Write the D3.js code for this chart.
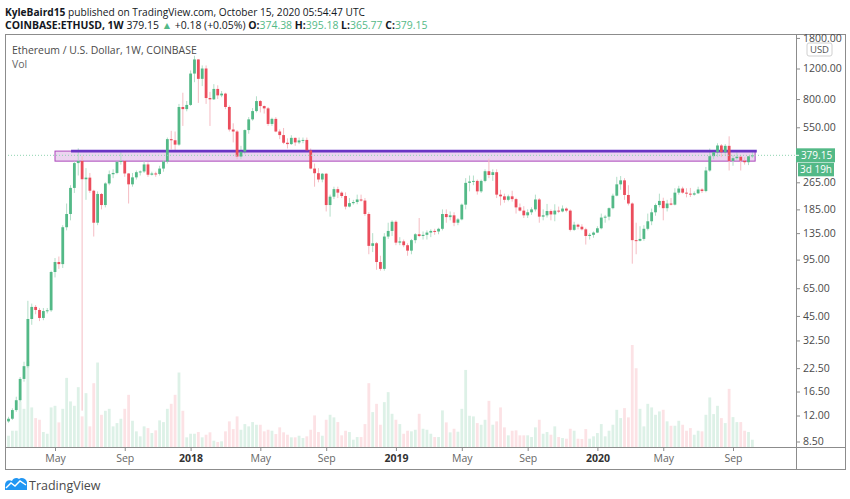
<!DOCTYPE html>
<html><head><meta charset="utf-8">
<script src="https://cdnjs.cloudflare.com/ajax/libs/d3/7.8.5/d3.min.js"></script>
<style>
html,body{margin:0;padding:0;background:#fff;}
svg{display:block;font-family:"Open Sans","Noto Sans",sans-serif;}
</style></head>
<body>
<svg id="chart" width="850" height="499"></svg>
<script>
// ---------- DATA (weekly candles, COINBASE:ETHUSD, first week = 2017-01-30) ----------
const firstWeek = "2017-01-30";
const lastWeek  = "2020-10-12";
const opens = [10.6,11.1,11.5,12.9,14.7,19.5,23.1,43.2,50.7,48.7,43.8,48,48.5,
80.6,92,89.5,146,174,246,342,352,276,282,237,155,227,196,261,295,300,348,352,298,258,283,303,306,336,293,298,296,318,349,470,463,437,720,700,
740,1122,1353,1046,1200,811,797,915,840,860,720,534,520,373,398,530,611,682,779,729,707,575,615,520,496,448,440,478,450,462,465,405,318,299,275,297,196,219,242,231,221,192,201,204,211,208,174,114,118,92,84,129,139,
157,119,121,115,107,123,133,130,132,136,139,138,143,174,167,171,155,162,197,263,268,270,235,270,307,292,303,225,220,210,220,212,190,182,171,178,185,211,168,171,181,173,182,180,187,182,141,151,147,142,130,132,
136,144,166,168,188,222,258,272,224,200,123,122,125,143,158,178,196,207,188,200,197,231,244,231,228,225,229,241,236,310,375,395,432,395,430,352,365,372,353,346,374.38];
const highs = [11.5,11.8,13.2,15.4,20,24.5,55,53,52,50,50,50,82,
97,99,150,200,255,350,416,375,320,300,240,235,230,265,310,315,350,395,355,300,300,310,310,350,345,305,305,330,355,480,525,520,750,870,780,
1170,1420,1360,1250,1250,880,975,960,890,870,735,580,530,430,535,630,710,830,790,735,720,625,630,535,545,475,495,480,480,480,480,415,340,320,300,300,225,250,250,235,232,215,210,225,225,215,178,135,120,100,135,155,160,
160,128,124,118,125,135,165,138,140,142,143,145,185,185,180,178,165,200,280,290,290,275,275,315,363,315,315,240,228,225,237,216,200,193,185,190,225,215,185,199,185,198,192,195,190,185,157,153,152,145,135,138,
148,175,172,190,228,285,288,280,255,203,155,148,150,175,187,200,228,216,210,215,245,253,250,245,246,235,250,245,325,415,405,445,440,440,488,380,395,380,370,375,395.18];
const lows = [10.4,10.9,11.3,12.6,14.4,18.8,22.5,40,46,42,42.5,46.5,47.5,
75,84,85,140,160,230,290,12.8,210,230,129,150,185,190,255,280,295,335,285,200,250,275,290,300,285,290,285,290,305,340,410,405,430,560,680,
730,1000,760,950,750,560,790,800,820,700,520,450,360,360,385,505,600,670,670,660,560,560,515,470,440,415,435,430,440,445,400,315,250,265,265,180,168,212,215,215,185,190,197,198,205,170,102,105,83,82,82,125,130,
115,115,112,100,102,118,128,124,124,128,132,133,140,155,160,148,150,160,185,235,255,225,230,265,280,270,215,195,202,206,205,175,180,165,165,172,180,155,160,166,160,158,176,178,178,138,139,142,140,116,124,127,
135,142,155,160,185,220,240,210,195,90,102,121,122,140,150,170,190,160,180,195,195,225,228,217,218,222,227,230,232,305,360,370,370,375,310,330,355,310,335,333,365.77];
const closes = [11.1,11.5,12.9,14.7,19.5,23.1,43.2,50.7,48.7,43.8,48,48.5,80.6,
92,89.5,146,174,246,342,352,276,282,237,155,227,196,261,295,300,348,352,298,258,283,303,306,336,293,298,296,318,349,470,463,437,720,700,740,
1122,1353,1046,1200,811,797,915,840,860,720,534,520,373,398,530,611,682,779,729,707,575,615,520,496,448,440,478,450,462,465,405,318,299,275,297,196,219,242,231,221,192,201,204,211,208,174,114,118,92,84,129,139,157,
119,121,115,107,123,133,130,132,136,139,138,143,174,167,171,155,162,197,263,268,270,235,270,307,292,303,225,220,210,220,212,190,182,171,178,185,211,168,171,181,173,182,180,187,182,141,151,147,142,130,132,136,
144,166,168,188,222,258,272,224,200,123,122,125,143,158,178,196,207,188,200,197,231,244,231,228,225,229,241,236,310,375,395,432,395,430,352,365,372,353,346,374.38,379.15];
// weekly volume (thousand ETH)
const volumes = [400,452,652,652,1828,1532,3440,1588,1160,1092,600,532,1588,
1652,988,1532,2772,1828,1652,2400,1228,2160,828,2560,3388,1292,1452,1532,828,960,1132,1532,2092,1052,628,428,828,760,560,668,1068,1000,1532,1732,2092,2988,1452,388,
532,532,600,388,492,588,252,200,228,628,1028,720,1228,692,920,828,1000,892,892,628,692,652,520,788,588,492,388,388,452,360,428,692,1268,600,452,1092,1292,1188,1000,468,652,600,292,400,400,920,2560,1400,1732,892,1800,2200,1332,
1092,920,532,652,628,692,1332,732,692,532,400,400,1468,988,588,732,612,1532,3092,1252,1228,960,892,1092,1852,892,1028,1588,788,468,652,668,468,468,468,400,788,1092,532,600,492,828,400,360,332,732,652,332,320,720,332,428,
560,920,428,652,892,1492,1160,1560,1188,4092,3160,1532,828,1732,1588,1292,1428,1492,1028,852,852,1052,892,652,760,492,652,628,1292,1988,1320,1652,1160,960,2332,1200,1000,1000,652,600,292];

// axis ticks
const priceTicks = [1800,1200,800,550,265,185,135,95,65,45,32.5,22.5,16.5,12,8.5];
const timeTickDates = ["2017-05-01","2017-09-04","2018-01-01","2018-05-07","2018-09-03","2019-01-07","2019-05-06","2019-09-02","2020-01-06","2020-05-04","2020-09-07"];
const timeTickLabels = ["May","Sep","2018","May","Sep","2019","May","Sep","2020","May","Sep"];

// drawn support zone (price range) and resistance line
const zoneDates = ["2017-05-01","2020-10-17"];
const zonePrices = [351, 401];
const lineDates = ["2017-05-30","2020-10-20"];
const linePrice = 401;
const lastPrice = 379.15;

// ---------- BUILD ----------
const parse = d3.utcParse("%Y-%m-%d");
const weeks = d3.utcMonday.range(parse(firstWeek), d3.utcDay.offset(parse(lastWeek),1));
const data = weeks.map((d,i)=>({date:d,o:opens[i],h:highs[i],l:lows[i],c:closes[i],v:volumes[i]}));

const svg = d3.select("#chart");
const P = {left:5,right:796,top:34,bottom:447,outerR:845,outerB:469};

const x = d3.scaleUtc().domain([parse("2017-05-01"),parse("2020-09-07")]).range([55,733]);
const y = d3.scaleLog().domain([8.5,1200]).range([441.5,68.5]);
const yv = d3.scaleLinear().domain([0,d3.max(volumes)]).range([P.bottom,345]);

const up="#53b987", dn="#eb4d5c";
const wickUp="#b3dec8", wickDn="#f5bcc3";
const bw=2.8;

function fit(sel, target){
  const w = sel.node().getComputedTextLength();
  const fs = parseFloat(sel.attr("font-size"));
  sel.attr("font-size", (fs*target/w).toFixed(2));
}

// header
const h1 = svg.append("text").attr("x",5).attr("y",15.5).attr("font-size",12).attr("fill","#131722");
h1.append("tspan").attr("font-weight","bold").text("KyleBaird15");
h1.append("tspan").text(" published on TradingView.com, October 15, 2020 05:54:47 UTC");
fit(h1,360);

const h2 = svg.append("text").attr("x",5).attr("y",29).attr("font-size",12).attr("fill","#131722");
const g2=[["COINBASE:ETHUSD, 1W","bold","#131722"],[" 379.15 ","normal","#131722"],["▲","normal",up],[" +0.18 (+0.05%) ","normal","#131722"],
["O:","bold","#131722"],["374.38","normal",up],[" H:","bold","#131722"],["395.18","normal",up],[" L:","bold","#131722"],["365.77","normal",up],[" C:","bold","#131722"],["379.15","normal",up]];
g2.forEach(s=>h2.append("tspan").attr("font-weight",s[1]).attr("fill",s[2]).text(s[0]));
fit(h2,423);

// clip
svg.append("clipPath").attr("id","plot").append("rect").attr("x",P.left).attr("y",P.top).attr("width",P.right-P.left).attr("height",P.bottom-P.top);
svg.append("clipPath").attr("id","axisclip").append("rect").attr("x",P.right).attr("y",P.top).attr("width",P.outerR-P.right).attr("height",P.bottom-P.top);
const plot = svg.append("g").attr("clip-path","url(#plot)");

// volume
plot.selectAll("rect.vol").data(data).join("rect").attr("class","vol")
  .attr("x",d=>x(d.date)-bw/2).attr("width",bw)
  .attr("y",d=>yv(d.v)).attr("height",d=>P.bottom-yv(d.v))
  .attr("fill",d=>d.c>=d.o?"rgba(83,185,135,0.2)":"rgba(235,77,92,0.16)");

// zone
plot.append("rect").attr("x",x(parse(zoneDates[0]))).attr("width",x(parse(zoneDates[1]))-x(parse(zoneDates[0])))
  .attr("y",y(zonePrices[1])).attr("height",y(zonePrices[0])-y(zonePrices[1]))
  .attr("fill","rgba(186,104,200,0.28)").attr("stroke","#ab47bc").attr("stroke-width",1);

// wicks
plot.selectAll("line.wick").data(data).join("line").attr("class","wick")
  .attr("x1",d=>x(d.date)).attr("x2",d=>x(d.date))
  .attr("y1",d=>y(d.h)).attr("y2",d=>y(d.l))
  .attr("stroke",d=>d.c>=d.o?wickUp:wickDn).attr("stroke-width",1);

// resistance line
plot.append("line").attr("x1",x(parse(lineDates[0]))).attr("x2",x(parse(lineDates[1])))
  .attr("y1",y(linePrice)).attr("y2",y(linePrice)).attr("stroke","#6a35c4").attr("stroke-width",2.6);

// bodies
plot.selectAll("rect.body").data(data).join("rect").attr("class","body")
  .attr("x",d=>x(d.date)-bw/2).attr("width",bw)
  .attr("y",d=>y(Math.max(d.o,d.c)))
  .attr("height",d=>Math.max(1,Math.abs(y(d.o)-y(d.c))))
  .attr("fill",d=>d.c>=d.o?up:dn);

// last price dotted line
plot.append("line").attr("x1",P.left).attr("x2",P.right).attr("y1",y(lastPrice)).attr("y2",y(lastPrice))
  .attr("stroke","#8fd3b0").attr("stroke-width",1).attr("stroke-dasharray","1,2");

// frame
const fr = svg.append("g").attr("stroke","#8c8c8c").attr("fill","none").attr("shape-rendering","crispEdges");
fr.append("rect").attr("x",P.left).attr("y",P.top).attr("width",P.outerR-P.left).attr("height",P.outerB-P.top);
fr.append("line").attr("x1",P.right).attr("x2",P.right).attr("y1",P.top).attr("y2",P.outerB);
fr.append("line").attr("x1",P.left).attr("x2",P.outerR).attr("y1",P.bottom).attr("y2",P.bottom);

// price axis
const ax = svg.append("g").attr("clip-path","url(#axisclip)");
const yAxis = d3.axisRight(y).tickValues(priceTicks).tickFormat(d3.format(".2f")).tickSize(4).tickPadding(3);
const ga = ax.append("g").attr("transform",`translate(${P.right},0)`).call(yAxis);
ga.select(".domain").remove();
ga.selectAll("line").attr("stroke","#8c8c8c");
ga.selectAll("text").attr("font-size",10.5).attr("fill","#4a4a4a").attr("font-family","'Open Sans',sans-serif");

// USD box (sits over the top tick label as in the original)
svg.append("rect").attr("x",807).attr("y",43).attr("width",25).attr("height",13).attr("rx",2)
  .attr("fill","#fff").attr("stroke","#d0d0d0");
svg.append("text").attr("x",819.5).attr("y",53).attr("text-anchor","middle").attr("font-size",9.5).attr("fill","#555").text("USD");

// last price labels
const ly = y(lastPrice);
svg.append("rect").attr("x",796).attr("y",ly-7).attr("width",39).attr("height",14).attr("fill",up);
svg.append("line").attr("x1",796).attr("x2",799).attr("y1",ly).attr("y2",ly).attr("stroke","#fff");
svg.append("text").attr("x",816.5).attr("y",ly+3.6).attr("text-anchor","middle").attr("font-size",10).attr("fill","#fff").text("379.15");
svg.append("rect").attr("x",798).attr("y",ly+7.5).attr("width",36).attr("height",13.5).attr("fill",up);
svg.append("text").attr("x",816).attr("y",ly+17.8).attr("text-anchor","middle").attr("font-size",10).attr("fill","#fff").text("3d 19h");

// time axis
const tDates = timeTickDates.map(parse);
const xAxis = d3.axisBottom(x).tickValues(tDates).tickFormat((d,i)=>timeTickLabels[i]).tickSize(4).tickPadding(4);
const gx = svg.append("g").attr("transform",`translate(0,${P.bottom})`).call(xAxis);
gx.select(".domain").remove();
gx.selectAll("line").attr("stroke","#8c8c8c");
gx.selectAll("text").attr("font-size",10.5).attr("font-family","'Open Sans',sans-serif")
  .attr("fill",(d,i)=>/^\d/.test(timeTickLabels[i])?"#333":"#666")
  .attr("font-weight",(d,i)=>/^\d/.test(timeTickLabels[i])?"bold":"normal");

// legend texts
const lt = svg.append("text").attr("x",12).attr("y",53.5).attr("font-size",11).attr("fill","#4a4a4a").text("Ethereum / U.S. Dollar, 1W, COINBASE");
fit(lt,185);
svg.append("text").attr("x",12).attr("y",67.5).attr("font-size",10.5).attr("fill","#666").text("Vol");

// TradingView logo
const lg = svg.append("g");
lg.append("path").attr("d","M5,490 L5,485 C5,481 9,479 12,481 C13,478 17,477 19,479 C21,477 26,478 27,482 L27,490 Z").attr("fill","#2196f3");
lg.append("path").attr("d","M6,488 L11,483 L15,486 L20,481 L26,485").attr("fill","none").attr("stroke","#fff").attr("stroke-width",1.4);
svg.append("text").attr("x",29).attr("y",489.5).attr("font-size",12.5).attr("fill","#4a4a4a").text("TradingView");
</script>
</body></html>
